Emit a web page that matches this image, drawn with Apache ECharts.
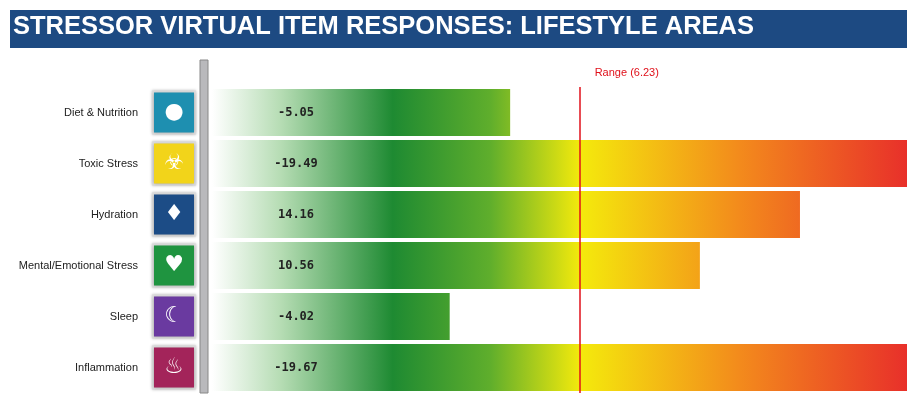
<!DOCTYPE html>
<html><head><meta charset="utf-8">
<script src="https://cdn.jsdelivr.net/npm/echarts@6/dist/echarts.min.js"></script>
<style>html,body{margin:0;padding:0;background:#fff}#c{width:907px;height:415px}</style>
</head><body><div id="c"></div>
<script>
const categories = ['Diet & Nutrition','Toxic Stress','Hydration','Mental/Emotional Stress','Sleep','Inflammation'];
const scoreLabels = ['-5.05','-19.49','14.16','10.56','-4.02','-19.67'];
const barLengths = [42.9, 100, 84.6, 70.2, 34.2, 100];
const iconGlyphs = ['●','☣','♦','♥','☾','♨'];
const iconColors = ['#1e8fb0','#f2d41a','#1c4c86','#1f9440','#6a3aa0','#a3245a'];
const rangeValue = 52.9;
const rangeLabel = 'Range (6.23)';
const title = 'STRESSOR VIRTUAL ITEM RESPONSES: LIFESTYLE AREAS';

const rich = {name:{fontSize:11,color:'#222',fontFamily:'Liberation Sans, Arial',align:'right',padding:[0,16,0,0]}};
iconColors.forEach((c,i)=>{rich['i'+i]={backgroundColor:c,color:'#fff',width:40,height:40,align:'center',fontSize:22,borderColor:'#ddd',borderWidth:2,shadowColor:'rgba(0,0,0,0.3)',shadowBlur:3,fontFamily:'DejaVu Sans',padding:0};});

const grad = new echarts.graphic.LinearGradient(212,0,907,0,[
 {offset:0,color:'#ffffff'},{offset:0.1,color:'#b5dcb3'},{offset:0.26,color:'#1e8a32'},
 {offset:0.40,color:'#5fae2c'},{offset:0.53,color:'#f4ea0c'},{offset:0.76,color:'#f38a1c'},{offset:1,color:'#e8302a'}],true);

const chart = echarts.init(document.getElementById('c'));
chart.setOption({
 animation:false,
 grid:{left:212,right:0,top:87,bottom:22},
 xAxis:{type:'value',min:0,max:100,show:false},
 yAxis:{type:'category',inverse:true,data:categories,axisLine:{show:false},axisTick:{show:false},
  axisLabel:{margin:18,formatter:(v,i)=>'{name|'+v+'}{i'+i+'|'+iconGlyphs[i]+'}',rich:rich}},
 graphic:[
  {type:'rect',shape:{x:10,y:10,width:897,height:38},style:{fill:'#1d4a82'}},
  {type:'text',left:13,top:14,style:{text:title,fill:'#fff',fontSize:25.5,fontFamily:'Liberation Sans Narrow, Liberation Sans',fontWeight:'bold'}},
  {type:'rect',shape:{x:200,y:60,width:8,height:333},style:{fill:'#b9b9bc',stroke:'#888',lineWidth:1}}
 ],
 series:[{type:'bar',data:barLengths,barWidth:47,itemStyle:{color:grad},
  label:{show:true,position:[84,'50%'],align:'center',verticalAlign:'middle',formatter:p=>scoreLabels[p.dataIndex],
   color:'#222',fontFamily:'DejaVu Sans Mono',fontWeight:'bold',fontSize:12},
  markLine:{symbol:'none',silent:true,lineStyle:{color:'#e0101a',width:1.5,type:'solid'},
   label:{show:true,position:'start',formatter:rangeLabel,color:'#e0101a',fontSize:11,fontFamily:'Liberation Sans',align:'left',offset:[15,-4]},
   data:[{xAxis:rangeValue}]}}]
});
</script></body></html>
